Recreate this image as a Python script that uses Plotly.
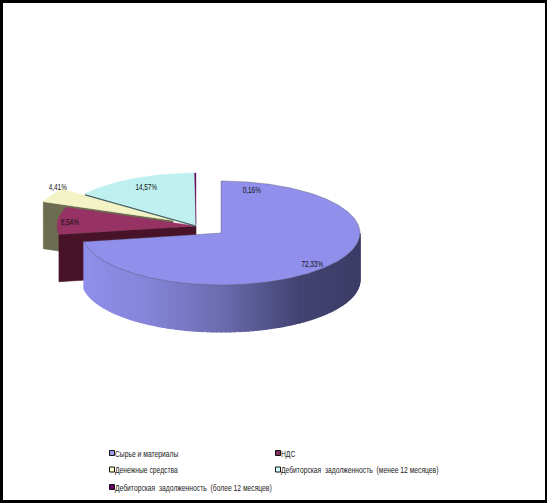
import numpy as np
import plotly.graph_objects as go

# Data
categories = ["Сырье и материалы", "НДС", "Денежные средства",
              "Дебиторская  задолженность  (менее 12 месяцев)",
              "Дебиторская  задолженность  (более 12 месяцев)"]
values = [72.33, 8.54, 4.41, 14.57, 0.16]
value_labels = ["72,33%", "8,54%", "4,41%", "14,57%", "0,16%"]

# Styles
top_colors = ["#9090EC", "#963264", "#F3F3C6", "#BEF0F0", "#66105A"]
wall_colors = ["#6C6CB0", "#481229", "#6C6C50", "#4A6A6A", "#33082D"]
legend_colors = ["#9999EE", "#80305F", "#FFFFCC", "#CCFFFF", "#660066"]
centers = [(221, 233), (196, 226), (173, 220.4), (196, 225), (196, 225)]
RX, RY, DEPTH = 139, 52, 47
label_pos = [(312, 264), (70, 222), (58, 187), (146, 187), (252, 190)]
legend_pos = [(112, 453), (278, 453), (112, 469.5), (278, 469.5), (112, 487)]
FONT = "Liberation Sans"

total = sum(values)
edges = np.concatenate([[0], np.cumsum(values)]) / total * 360.0


def pt(c, a, dy=0.0):
    r = np.radians(a)
    return c[0] + RX * np.sin(r), c[1] - RY * np.cos(r) + dy


def poly(xs, ys, fill, line=None, width=0.6):
    return go.Scatter(x=list(xs), y=list(ys), mode="lines", fill="toself", fillcolor=fill,
                      line=dict(color=line or fill, width=width), hoverinfo="skip", showlegend=False)


def top(i):
    c = centers[i]
    a = np.linspace(edges[i], edges[i + 1], max(3, int(edges[i + 1] - edges[i]) * 2))
    x, y = pt(c, a)
    return poly(np.r_[c[0], x, c[0]], np.r_[c[1], y, c[1]], top_colors[i], line="#555566" if i == 0 else None, width=0.4)


def radial_wall(i, a, color):
    c = centers[i]
    x, y = pt(c, a)
    return poly([c[0], x, x, c[0], c[0]], [c[1], y, y + DEPTH, c[1] + DEPTH, c[1]], color)


def shade(x):
    stops_x = [84, 150, 221, 297, 360]
    r = np.interp(x, stops_x, [0x90, 0x84, 0x6C, 0x44, 0x3C])
    g = r
    b = np.interp(x, stops_x, [0xEC, 0xD8, 0xB0, 0x74, 0x66])
    return f"rgb({int(r)},{int(g)},{int(b)})"


fig = go.Figure()

# Exploded yellow slice
fig.add_trace(radial_wall(2, edges[2], wall_colors[2]))
fig.add_trace(top(2))
# Maroon slice
fig.add_trace(radial_wall(1, edges[1], wall_colors[1]))
fig.add_trace(top(1))
# Cyan slice with thin dark edge, then the smallest slice
cx, cy = pt(centers[3], edges[3])
fig.add_trace(go.Scatter(x=[cx, centers[3][0]], y=[cy + 1, centers[3][1] + 1], mode="lines",
                         line=dict(color=wall_colors[3], width=1.4), hoverinfo="skip", showlegend=False))
fig.add_trace(top(3))
fig.add_trace(top(4))
# Front wall of the large slice
c0 = centers[0]
seg = np.linspace(90, edges[1], 90)
for a0, a1 in zip(seg[:-1], seg[1:]):
    x0, y0 = pt(c0, a0)
    x1, y1 = pt(c0, a1)
    col = shade((x0 + x1) / 2)
    fig.add_trace(poly([x0, x1, x1, x0, x0], [y0, y1, y1 + DEPTH, y0 + DEPTH, y0], col, width=1.2))
fig.add_trace(top(0))

# Value labels
for (lx, ly), t in zip(label_pos, value_labels):
    fig.add_annotation(x=lx, y=ly, text=t, showarrow=False, font=dict(family=FONT, size=9, color="#111111"))

# Legend
for (lx, ly), name, col in zip(legend_pos, categories, legend_colors):
    fig.add_trace(go.Scatter(x=[lx], y=[ly], mode="markers",
                             marker=dict(symbol="square", size=5, color=col, line=dict(color="#111111", width=1)),
                             hoverinfo="skip", showlegend=False))
    fig.add_annotation(x=lx + 1, y=ly, text=name.replace("  ", "\u00a0\u00a0"), showarrow=False, xanchor="left",
                       font=dict(family=FONT, size=9.5, color="#222222"))

fig.update_layout(width=547, height=503, paper_bgcolor="black", plot_bgcolor="white",
                  margin=dict(l=3, r=2, t=3, b=3), showlegend=False,
                  xaxis=dict(range=[3, 545], visible=False, fixedrange=True),
                  yaxis=dict(range=[500, 3], visible=False, fixedrange=True))
post = """
document.documentElement.style.margin='0';document.body.style.margin='0';document.body.style.overflow='hidden';
document.querySelectorAll('.annotation-text').forEach(function(t,i){
  var n=t.getComputedTextLength(), s=0.71;
  t.setAttribute('textLength',n*s);
  t.setAttribute('lengthAdjust','spacingAndGlyphs');
  t.style.whiteSpace='pre';
  if(i>=5){ t.setAttribute('x', parseFloat(t.getAttribute('x'))-n*(1-s)/2); }
});
"""
fig.write_html("out.html", config={"displayModeBar": False}, post_script=post)
